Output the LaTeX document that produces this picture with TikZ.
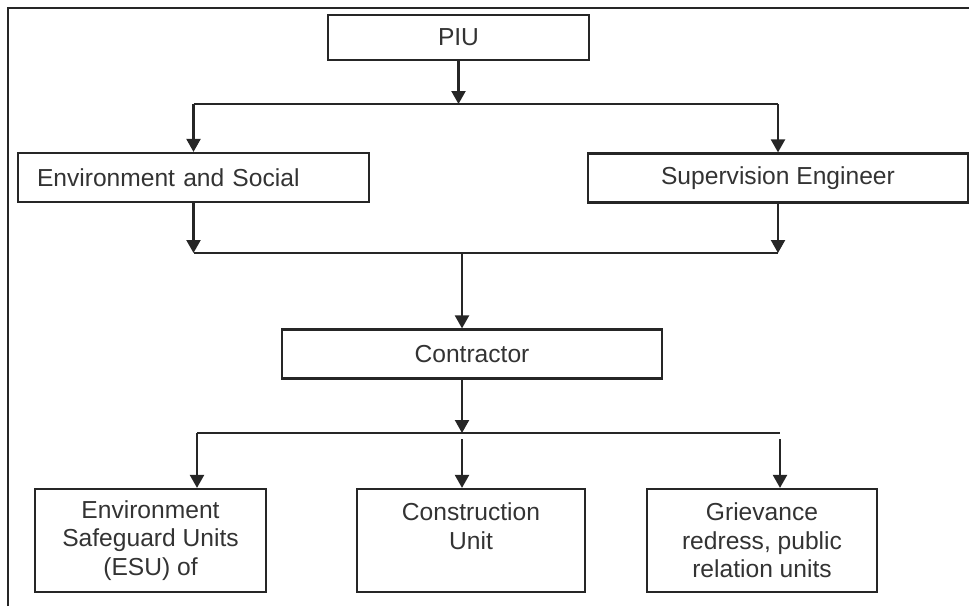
\documentclass[tikz,border=0pt]{standalone}
\usepackage{fontspec}
\setmainfont{Liberation Sans}
\usetikzlibrary{arrows.meta,positioning}

\begin{document}
\begin{tikzpicture}[x=0.5pt,y=-0.5pt,
  line width=1.1pt,
  >={Triangle[length=6.5pt,width=7pt]},
  unit/.style={draw=black!85,text=black!80,inner sep=0pt,align=center,
    font=\fontsize{12.3}{14.25}\selectfont},
  wide/.style={unit,minimum width=190pt,minimum height=24.5pt},
  low/.style={unit,minimum width=115pt,minimum height=51.5pt}]
  \useasboundingbox (0,0) rectangle (969,606);
  \draw[black!85] (8,606) |- (969,8);

  \node[unit,minimum width=130.5pt,minimum height=22.5pt] (piu) at (458.5,37.5) {PIU};
  \node[unit,minimum height=24.5pt,text width=156.5pt,inner xsep=9.5pt,align=left]
                      (envsoc) at (193.5,177.5) {Environment and Social};
  \node[wide]         (supeng) at (778,178)     {Supervision Engineer};
  \node[wide]         (contr)  at (472,354)     {Contractor};
  \node[low,minimum width=115.5pt] (esu) at (150.5,540.5) {Environment\\Safeguard Units\\(ESU) of};
  \node[low,minimum width=114pt]   (cons) at (471,540.5)  {Construction\\Unit\\\mbox{}};
  \node[low]                       (griev) at (762,540.5) {Grievance\\redress, public\\relation units};

  % branch points
  \coordinate (b1) at (458.5,104);
  \coordinate (b2) at (462,253);
  \coordinate (b3) at (462,433);
  \coordinate (b3l) at (197,433);
  \coordinate (b3r) at (780,433);

  \path[black!85,->]
  (piu) edge (b1)
  (b1 -| envsoc) edge (envsoc)
  (b1 -| supeng) edge (supeng)
  (envsoc) edge (b2 -| envsoc)
  (supeng) edge (b2 -| supeng)
  (b2) edge (b2 |- contr.north)
  (b3 |- contr.south) edge (b3)
  (b3l) edge (b3l |- esu.north)
  ([yshift=-3pt]b3) edge (b3 |- cons.north)
  ([yshift=-3pt]b3r) edge (b3r |- griev.north);
  \draw[black!85] (b1 -| envsoc) -- (b1 -| supeng)
                  (b2 -| envsoc) -- (b2 -| supeng)
                  (b3l) -- (b3r);
\end{tikzpicture}
\end{document}
